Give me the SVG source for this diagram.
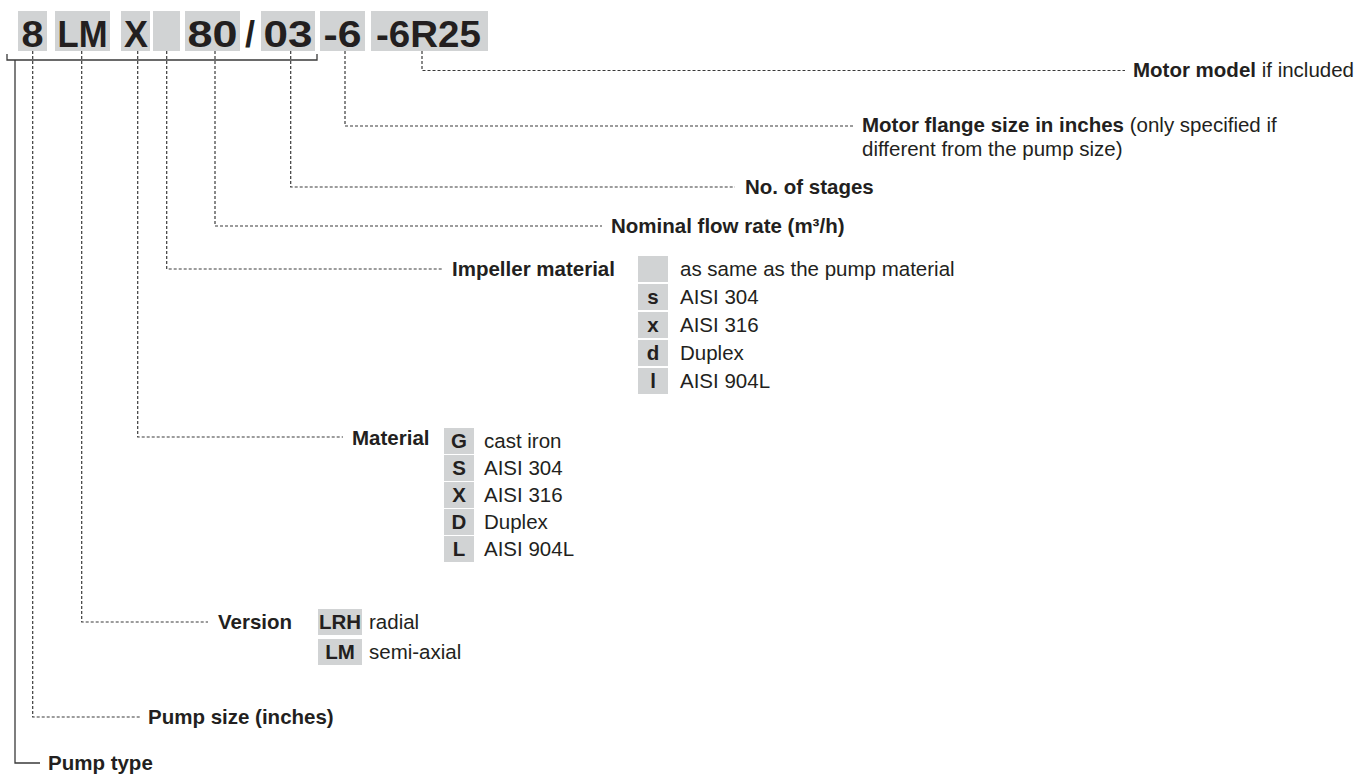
<svg xmlns="http://www.w3.org/2000/svg" width="1370" height="776" viewBox="0 0 1370 776">
<style>
text{font-family:"Liberation Sans",Arial,sans-serif;fill:#231f20}
.h{font-size:36px;font-weight:bold;text-anchor:middle}
.b{font-size:20.5px;font-weight:bold}
.r{font-size:20.5px}
.c{font-size:20.5px;font-weight:bold;text-anchor:middle}
.box{fill:#d1d3d4}
.d{fill:none;stroke:#3a3a3a;stroke-width:1.2;stroke-dasharray:3 2}
.s{fill:none;stroke:#3a3a3a;stroke-width:1.3}
</style>
<rect width="1370" height="776" fill="#fff"/>
<g id="code">
<rect class="box" x="18" y="11" width="29" height="40"/>
<rect class="box" x="55" y="11" width="55" height="40"/>
<rect class="box" x="121" y="11" width="29" height="40"/>
<rect class="box" x="153" y="11" width="27" height="40"/>
<rect class="box" x="185" y="11" width="55" height="40"/>
<rect class="box" x="261" y="11" width="54" height="40"/>
<rect class="box" x="320" y="11" width="45" height="40"/>
<rect class="box" x="371" y="11" width="117" height="40"/>
<text class="h" x="32.5" y="47" textLength="22" lengthAdjust="spacingAndGlyphs">8</text>
<text class="h" x="82.5" y="47" textLength="50" lengthAdjust="spacingAndGlyphs">LM</text>
<text class="h" x="136" y="47" textLength="24" lengthAdjust="spacingAndGlyphs">X</text>
<text class="h" x="212.5" y="47" textLength="50" lengthAdjust="spacingAndGlyphs">80</text>
<text class="h" x="250" y="47">/</text>
<text class="h" x="288" y="47" textLength="49" lengthAdjust="spacingAndGlyphs">03</text>
<text class="h" x="342.5" y="47" textLength="38" lengthAdjust="spacingAndGlyphs">-6</text>
<text class="h" x="428.5" y="47" textLength="105" lengthAdjust="spacingAndGlyphs">-6R25</text>
</g>
<g id="connectors">
<path class="s" d="M7,54 V60 H317 V54"/>
<path class="s" d="M15,60 V763 H40"/>
<path class="d" d="M422,51 V70.5 H1125"/>
<path class="d" d="M345,51 V126 H853"/>
<path class="d" d="M290.7,51 V187 H735"/>
<path class="d" d="M215,51 V226 H602"/>
<path class="d" d="M166.7,51 V269 H443"/>
<path class="d" d="M137.7,51 V437 H343"/>
<path class="d" d="M81.7,51 V622 H208"/>
<path class="d" d="M32.7,51 V717 H140"/>
</g>
<g id="motor-model">
<text x="1133" y="77"><tspan class="b">Motor model</tspan><tspan class="r"> if included</tspan></text>
</g>
<g id="motor-flange">
<text x="862" y="132"><tspan class="b">Motor flange size in inches</tspan><tspan class="r"> (only specified if</tspan></text>
<text class="r" x="862" y="156">different from the pump size)</text>
</g>
<g id="stages">
<text class="b" x="745" y="194">No. of stages</text>
</g>
<g id="flow">
<text class="b" x="611" y="233">Nominal flow rate (m³/h)</text>
</g>
<g id="impeller">
<text class="b" x="452" y="276">Impeller material</text>
<rect class="box" x="638" y="256" width="30" height="26"/>
<rect class="box" x="638" y="284" width="30" height="26"/>
<rect class="box" x="638" y="312" width="30" height="26"/>
<rect class="box" x="638" y="340" width="30" height="26"/>
<rect class="box" x="638" y="368" width="30" height="26"/>
<text class="c" x="653" y="304">s</text>
<text class="c" x="653" y="332">x</text>
<text class="c" x="653" y="360">d</text>
<text class="c" x="653" y="388">l</text>
<text class="r" x="680" y="276">as same as the pump material</text>
<text class="r" x="680" y="304">AISI 304</text>
<text class="r" x="680" y="332">AISI 316</text>
<text class="r" x="680" y="360">Duplex</text>
<text class="r" x="680" y="388">AISI 904L</text>
</g>
<g id="material">
<text class="b" x="352" y="445">Material</text>
<rect class="box" x="444" y="428" width="30" height="26"/>
<rect class="box" x="444" y="455" width="30" height="26"/>
<rect class="box" x="444" y="482" width="30" height="26"/>
<rect class="box" x="444" y="509" width="30" height="26"/>
<rect class="box" x="444" y="536" width="30" height="26"/>
<text class="c" x="459" y="448">G</text>
<text class="c" x="459" y="475">S</text>
<text class="c" x="459" y="502">X</text>
<text class="c" x="459" y="529">D</text>
<text class="c" x="459" y="556">L</text>
<text class="r" x="484" y="448">cast iron</text>
<text class="r" x="484" y="475">AISI 304</text>
<text class="r" x="484" y="502">AISI 316</text>
<text class="r" x="484" y="529">Duplex</text>
<text class="r" x="484" y="556">AISI 904L</text>
</g>
<g id="version">
<text class="b" x="218" y="629">Version</text>
<rect class="box" x="318" y="609" width="44" height="26"/>
<rect class="box" x="318" y="639" width="44" height="26"/>
<text class="c" x="340" y="629">LRH</text>
<text class="c" x="340" y="659">LM</text>
<text class="r" x="369" y="629">radial</text>
<text class="r" x="369" y="659">semi-axial</text>
</g>
<g id="pump-size">
<text class="b" x="148" y="724">Pump size (inches)</text>
</g>
<g id="pump-type">
<text class="b" x="48" y="770">Pump type</text>
</g>
</svg>
